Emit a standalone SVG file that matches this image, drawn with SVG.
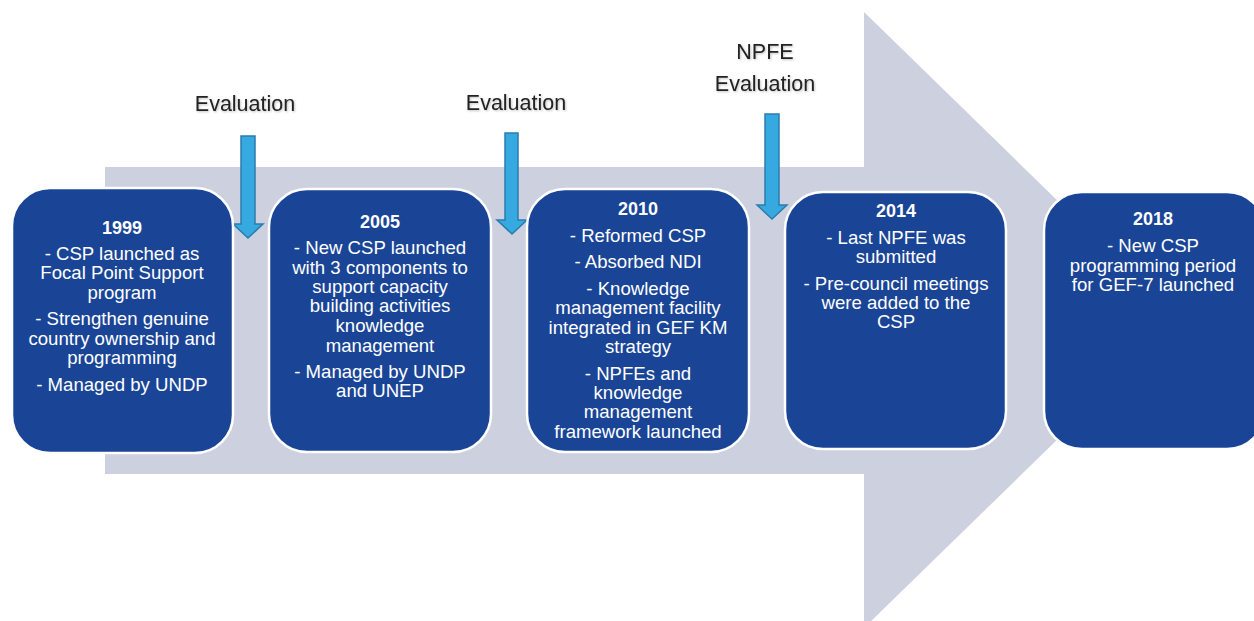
<svg xmlns="http://www.w3.org/2000/svg" width="1254" height="621" viewBox="0 0 1254 621">
<style>
.box{fill:#1A4597;stroke:#FFFFFF;stroke-width:2.5}
.t{font-family:"Liberation Sans",Arial,sans-serif;font-size:18.6px;fill:#FFFFFF;text-anchor:middle}
.y{font-weight:bold;font-size:18px}
.lab{font-family:"Liberation Sans",Arial,sans-serif;font-size:21.5px;fill:#222222;text-anchor:middle}
.ev{fill:#35A9E0;stroke:#2B7CAE;stroke-width:1.5}
</style>
<defs>
<filter id="sh" x="-10%" y="-20%" width="130%" height="160%">
<feDropShadow dx="1" dy="1" stdDeviation="0.8" flood-color="#000000" flood-opacity="0.25"/>
</filter>
</defs>
<rect width="1254" height="621" fill="#FFFFFF"/>
<g id="timeline-arrow">
<path d="M105 167 H864 V12 L1180 320 L864 628 V474 H105 Z" fill="#CCD0DF"/>
</g>
<g id="connectors">
<path class="ev" d="M241 136 H255 V224 H263 L248 238 L233 224 H241 Z"/>
<path class="ev" d="M505 133 H518 V220 H527 L512 234 L497 220 H505 Z"/>
<path class="ev" d="M765 114 H779 V205 H787 L772 219 L757 205 H765 Z"/>
</g>
<g id="labels" filter="url(#sh)">
<text class="lab" x="245" y="111">Evaluation</text>
<text class="lab" x="516" y="110">Evaluation</text>
<text class="lab" x="765" y="59">NPFE</text>
<text class="lab" x="765" y="91">Evaluation</text>
</g>
<g id="node-1999">
<rect class="box" x="12" y="188" width="221" height="265" rx="38"/>
<text class="t y" x="122" y="234">1999</text>
<text class="t" x="122" y="260">- CSP launched as</text>
<text class="t" x="122" y="279">Focal Point Support</text>
<text class="t" x="122" y="299">program</text>
<text class="t" x="122" y="325">- Strengthen genuine</text>
<text class="t" x="122" y="345">country ownership and</text>
<text class="t" x="122" y="364">programming</text>
<text class="t" x="122" y="391">- Managed by UNDP</text>
</g>
<g id="node-2005">
<rect class="box" x="269" y="189" width="222" height="263" rx="38"/>
<text class="t y" x="380" y="228">2005</text>
<text class="t" x="380" y="254">- New CSP launched</text>
<text class="t" x="380" y="274">with 3 components to</text>
<text class="t" x="380" y="293">support capacity</text>
<text class="t" x="380" y="312">building activities</text>
<text class="t" x="380" y="332">knowledge</text>
<text class="t" x="380" y="352">management</text>
<text class="t" x="380" y="378">- Managed by UNDP</text>
<text class="t" x="380" y="397">and UNEP</text>
</g>
<g id="node-2010">
<rect class="box" x="527" y="189" width="222" height="263" rx="38"/>
<text class="t y" x="638" y="215">2010</text>
<text class="t" x="638" y="242">- Reformed CSP</text>
<text class="t" x="638" y="268">- Absorbed NDI</text>
<text class="t" x="638" y="295">- Knowledge</text>
<text class="t" x="638" y="314">management facility</text>
<text class="t" x="638" y="334">integrated in GEF KM</text>
<text class="t" x="638" y="353">strategy</text>
<text class="t" x="638" y="380">- NPFEs and</text>
<text class="t" x="638" y="399">knowledge</text>
<text class="t" x="638" y="418">management</text>
<text class="t" x="638" y="438">framework launched</text>
</g>
<g id="node-2014">
<rect class="box" x="785" y="192" width="221" height="257" rx="38"/>
<text class="t y" x="896" y="217">2014</text>
<text class="t" x="896" y="244">- Last NPFE was</text>
<text class="t" x="896" y="263">submitted</text>
<text class="t" x="896" y="290">- Pre-council meetings</text>
<text class="t" x="896" y="309">were added to the</text>
<text class="t" x="896" y="328">CSP</text>
</g>
<g id="node-2018">
<rect class="box" x="1044" y="192" width="221" height="257" rx="38"/>
<text class="t y" x="1153" y="225">2018</text>
<text class="t" x="1153" y="252">- New CSP</text>
<text class="t" x="1153" y="272">programming period</text>
<text class="t" x="1153" y="291">for GEF-7 launched</text>
</g>
</svg>
